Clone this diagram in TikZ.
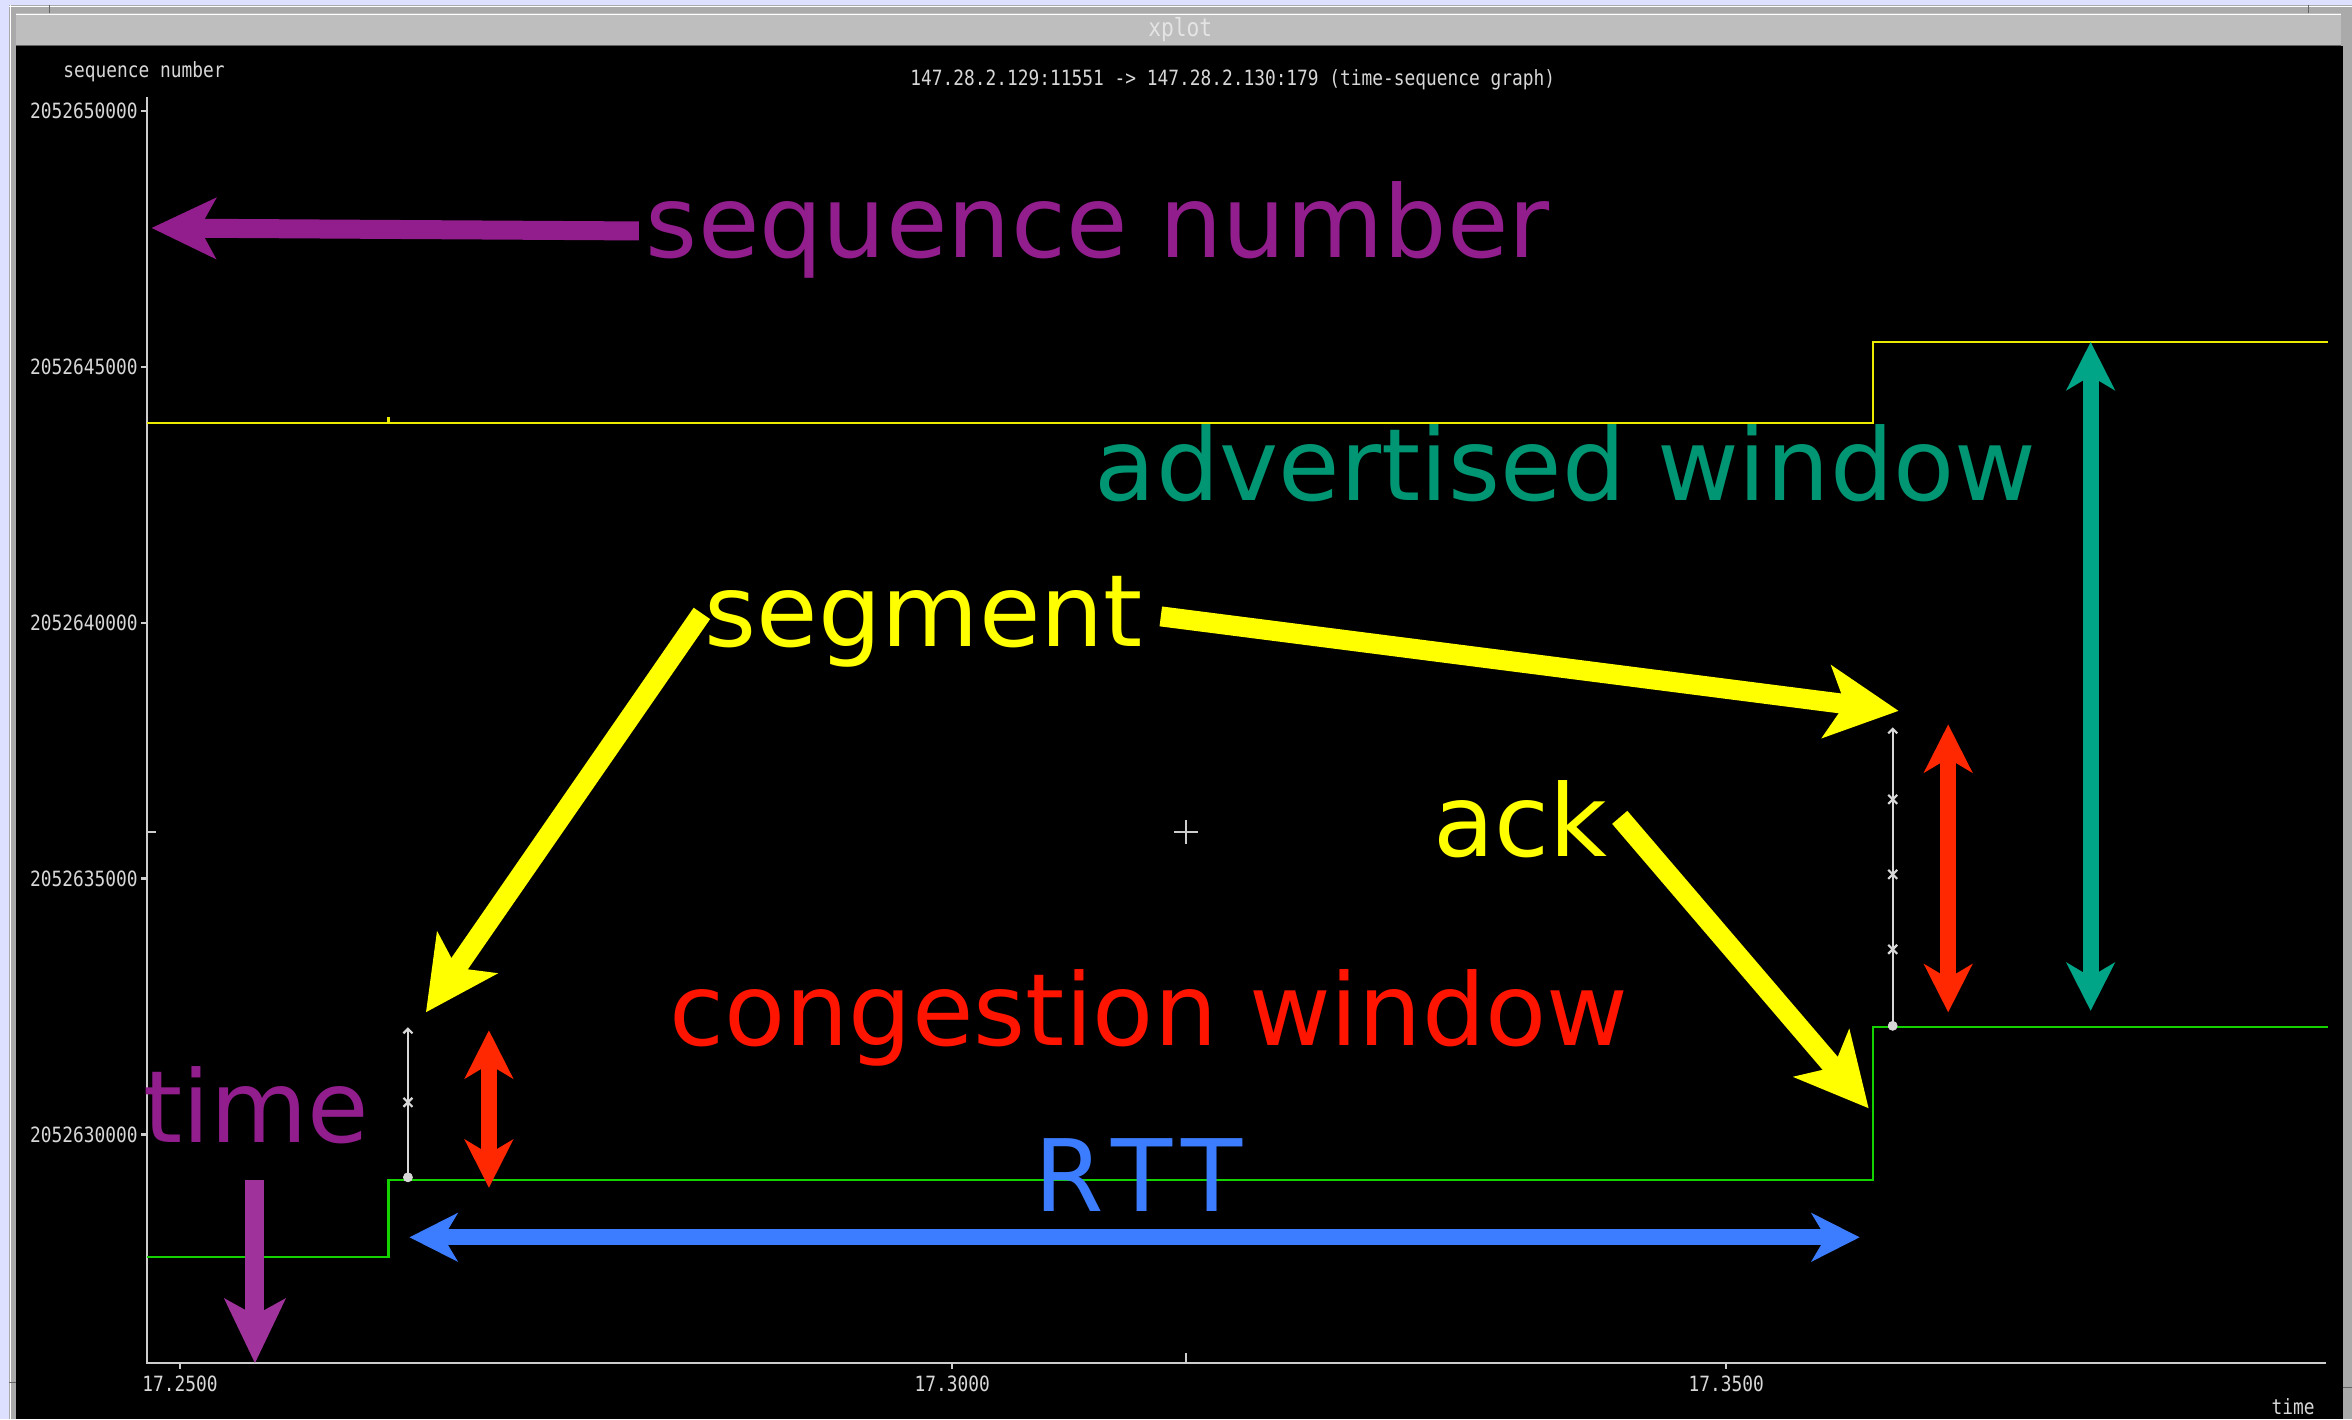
\documentclass[tikz,border=0pt]{standalone}
\usepackage{fontspec}
\usepackage{xcolor}
\usepackage{tikz}
\usetikzlibrary{arrows.meta}
\newfontfamily\handfont{DejaVu Sans}
\newfontfamily\plotfont[FakeStretch=0.85]{DejaVu Sans Mono}
\definecolor{lavender}{RGB}{221,224,255}
\definecolor{framegray}{RGB}{170,170,170}
\definecolor{titlegray}{RGB}{190,190,190}
\definecolor{titletext}{RGB}{228,228,228}
\definecolor{shadowgray}{RGB}{100,100,100}
\definecolor{plotgray}{RGB}{215,215,215}
\definecolor{axisgray}{RGB}{205,205,205}
\definecolor{cwndgreen}{RGB}{20,210,0}
\definecolor{awndyellow}{RGB}{235,235,0}
\definecolor{seqpurple}{RGB}{145,30,140}
\definecolor{timepurple}{RGB}{160,50,155}
\definecolor{advteal}{RGB}{0,150,115}
\definecolor{advarrow}{RGB}{0,165,135}
\definecolor{congred}{RGB}{255,20,0}
\definecolor{congarrow}{RGB}{255,40,0}
\definecolor{rttblue}{RGB}{60,125,255}
\definecolor{segyellow}{RGB}{255,255,0}

\begin{document}
\begin{tikzpicture}[x=0.75pt,y=0.75pt,yscale=-1,xscale=1,
  hand/.style={font=\handfont\fontsize{50}{60}\selectfont, inner sep=0pt, anchor=base},
  plotlbl/.style={font=\plotfont\fontsize{10.5}{12}\selectfont, text=plotgray, inner sep=0pt},
  plotline/.style={line width=1.1pt},
  bigtip/.style={line width=10pt, -{Stealth[length=36pt,width=36pt,inset=9pt]}},
  midtip/.style={line width=9.5pt, -{Stealth[length=32pt,width=30pt,inset=8pt]}},
  bothtip/.style={line width=8pt, {Stealth[length=24pt,width=24pt,inset=7pt]}-{Stealth[length=24pt,width=24pt,inset=7pt]}},
]
%Window frame
\fill[lavender] (0,0) rectangle (1568,946);
\fill[framegray] (6,3) rectangle (1568,946);
\draw[white] (6,4) -- (1568,4);
\draw[white] (7,3) -- (7,946);
\fill[titlegray] (11,9) rectangle (1561,30);
\draw[white] (11,9.5) -- (1561,9.5);
\draw[shadowgray] (11,30) -- (1561,30);
\fill[black] (11,31) rectangle (1562,946);
\draw[shadowgray] (33,3) -- (33,9);
\draw[shadowgray] (1539,3) -- (1539,9);
\draw[shadowgray] (6,922) -- (11,922);
\draw[shadowgray] (1562,925) -- (1568,925);
% Text Node
\node[font=\plotfont\fontsize{12.5}{14}\selectfont, text=titletext, inner sep=0pt] (wintitle) at (787,20) {xplot};

%Axes
\draw[axisgray, plotline] (98,65) -- (98,909) -- (1551,909);
\draw[axisgray, plotline] (94,74) -- (98,74);
\draw[axisgray, plotline] (94,244.6) -- (98,244.6);
\draw[axisgray, plotline] (94,415.2) -- (98,415.2);
\draw[axisgray, plotline] (94,585.8) -- (98,585.8);
\draw[axisgray, plotline] (94,756.4) -- (98,756.4);
\draw[axisgray, plotline] (98,555) -- (104,555);
\draw[axisgray, plotline] (120,909) -- (120,913);
\draw[axisgray, plotline] (635,909) -- (635,913);
\draw[axisgray, plotline] (1151,909) -- (1151,913);
\draw[axisgray, plotline] (791,909) -- (791,902);
%Crosshair
\draw[axisgray, plotline] (783,555) -- (799,555) (791,547) -- (791,563);

% Text Node
\node[plotlbl] (ytitle) at (96,48) {sequence number};
\node[plotlbl] (gtitle) at (822,53) {147.28.2.129:11551 -> 147.28.2.130:179 (time-sequence graph)};
\node[plotlbl, anchor=east] (ylab1) at (92,74) {2052650000};
\node[plotlbl, anchor=east] (ylab2) at (92,244.6) {2052645000};
\node[plotlbl, anchor=east] (ylab3) at (92,415.2) {2052640000};
\node[plotlbl, anchor=east] (ylab4) at (92,585.8) {2052635000};
\node[plotlbl, anchor=east] (ylab5) at (92,756.4) {2052630000};
\node[plotlbl] (xlab1) at (120,923) {17.2500};
\node[plotlbl] (xlab2) at (635,923) {17.3000};
\node[plotlbl] (xlab3) at (1151,923) {17.3500};
\node[plotlbl] (xtitle) at (1529,938) {time};

%Advertised window line
\draw[awndyellow, plotline] (98,282) -- (1249,282) -- (1249,228) -- (1552,228);
\draw[awndyellow, plotline] (259,282) -- (259,278);
%Ack line
\draw[cwndgreen, plotline] (98,838) -- (259,838) -- (259,787) -- (1249,787) -- (1249,685) -- (1552,685);

%Segments
\draw[plotgray, plotline] (272,686) -- (272,785);
\draw[plotgray, plotline] (269,689) -- (272,686) -- (275,689);
\draw[plotgray, plotline] (269,732) -- (275,738) (269,738) -- (275,732);
\draw[plotgray, fill=plotgray] (272,785) circle (3);
\draw[plotgray, plotline] (1262,486) -- (1262,684);
\draw[plotgray, plotline] (1259,489) -- (1262,486) -- (1265,489);
\draw[plotgray, plotline] (1259,530) -- (1265,536) (1259,536) -- (1265,530);
\draw[plotgray, plotline] (1259,580) -- (1265,586) (1259,586) -- (1265,580);
\draw[plotgray, plotline] (1259,630) -- (1265,636) (1259,636) -- (1265,630);
\draw[plotgray, fill=plotgray] (1262,684) circle (3);

% Text Node
\node[hand, text=seqpurple] (seqnum) at (732,172) {sequence number};
\node[hand, text=advteal] (advwin) at (1044,334) {advertised window};
\node[hand, text=segyellow] (segment) at (616,431) {segment};
\node[hand, text=segyellow] (ack) at (1014,571) {ack};
\node[hand, text=congred] (congwin) at (766,697) {congestion window};
\node[hand, text=seqpurple] (time) at (171,762) {time};
\node[hand, text=rttblue] (rtt) at (759,808) {R\kern4pt T\kern4pt T};

%Arrow ends
\coordinate (seqtail) at (426,154);
\coordinate (seqtip) at (101,152);
\coordinate (segtailL) at (468,409);
\coordinate (segtipL) at (284,675);
\coordinate (segtailR) at (774,411);
\coordinate (segtipR) at (1266,474);
\coordinate (acktail) at (1080,545);
\coordinate (acktip) at (1246,739);
\coordinate (timetail) at (170,787);
\coordinate (timetip) at (170,909);
\coordinate (rttL) at (273,825);
\coordinate (rttR) at (1240,825);
\coordinate (congLtop) at (326,687);
\coordinate (congLbot) at (326,792);
\coordinate (congRtop) at (1299,483);
\coordinate (congRbot) at (1299,675);
\coordinate (advtop) at (1394,228);
\coordinate (advbot) at (1394,674);

%Straight Lines
\draw[midtip, seqpurple] (seqtail) -- (seqtip);
\draw[bigtip, segyellow] (segtailL) -- (segtipL);
\draw[bigtip, segyellow] (segtailR) -- (segtipR);
\draw[bigtip, segyellow] (acktail) -- (acktip);
\draw[midtip, timepurple] (timetail) -- (timetip);
\draw[bothtip, rttblue] (rttL) -- (rttR);
\draw[bothtip, congarrow] (congLtop) -- (congLbot);
\draw[bothtip, congarrow] (congRtop) -- (congRbot);
\draw[bothtip, advarrow] (advtop) -- (advbot);

\end{tikzpicture}
\end{document}
